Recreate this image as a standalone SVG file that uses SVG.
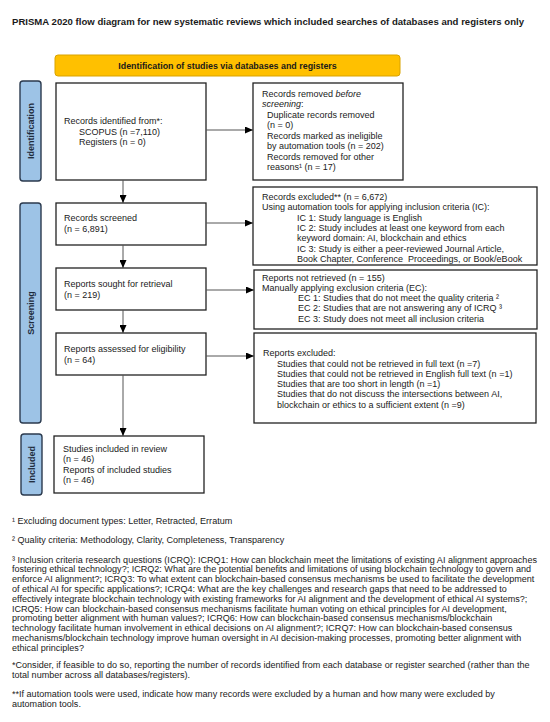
<svg xmlns="http://www.w3.org/2000/svg" width="550" height="722" viewBox="0 0 550 722">
<style>
  text { font-family: "Liberation Sans", Arial, sans-serif; fill: #1a1a1a; }
  .t { font-size: 9px; }
  .fn { font-size: 9.05px; }
  .box { fill: #ffffff; stroke: #222222; stroke-width: 1.3; }
  .side { fill: #9DC3E6; stroke: #2B3A4E; stroke-width: 1.4; }
  .sidet { font-size: 9px; font-weight: bold; fill: #1E2B3C; }
  .hdr { fill: #FFC000; stroke: #D9A300; stroke-width: 1; }
  .conn { stroke: #555555; stroke-width: 1; fill: none; marker-end: url(#ah); }
  .it { font-style: italic; }
</style>
<defs>
  <marker id="ah" markerUnits="userSpaceOnUse" markerWidth="8" markerHeight="7" refX="8" refY="3.5" orient="auto">
    <path d="M0,0 L8,3.5 L0,7 z" fill="#000000"/>
  </marker>
</defs>
<rect width="550" height="722" fill="#ffffff"/>

<text x="12" y="25" font-size="9.5" font-weight="bold" textLength="512" lengthAdjust="spacingAndGlyphs">PRISMA 2020 flow diagram for new systematic reviews which included searches of databases and registers only</text>

<g id="header">
  <rect class="hdr" x="55" y="55" width="345" height="21" rx="3"/>
  <text x="227.5" y="68.8" font-size="8.9" font-weight="bold" text-anchor="middle">Identification of studies via databases and registers</text>
</g>

<g id="label-identification">
  <rect class="side" x="20" y="81" width="21" height="100" rx="3"/>
  <text class="sidet" transform="translate(33.5,131) rotate(-90)" text-anchor="middle">Identification</text>
</g>
<g id="label-screening">
  <rect class="side" x="20" y="203" width="21" height="220" rx="3"/>
  <text class="sidet" transform="translate(33.5,313) rotate(-90)" text-anchor="middle">Screening</text>
</g>
<g id="label-included">
  <rect class="side" x="21" y="434" width="21" height="61" rx="3"/>
  <text class="sidet" transform="translate(34.5,464.5) rotate(-90)" text-anchor="middle">Included</text>
</g>

<g id="records-identified">
  <rect class="box" x="56" y="83" width="150" height="97"/>
  <text class="t" x="64" y="124">Records identified from*:</text>
  <text class="t" x="79" y="134.5">SCOPUS (n =7,110)</text>
  <text class="t" x="79" y="145">Registers (n = 0)</text>
</g>

<g id="records-removed">
  <rect class="box" x="253" y="83" width="150" height="97"/>
  <text class="t" x="262" y="96.5">Records removed <tspan class="it">before</tspan></text>
  <text class="t" x="262" y="107"><tspan class="it">screening</tspan>:</text>
  <text class="t" x="267" y="117.5">Duplicate records removed</text>
  <text class="t" x="267" y="128">(n = 0)</text>
  <text class="t" x="267" y="138.5">Records marked as ineligible</text>
  <text class="t" x="267" y="149">by automation tools (n = 202)</text>
  <text class="t" x="267" y="159.5">Records removed for other</text>
  <text class="t" x="267" y="170">reasons¹ (n = 17)</text>
</g>

<g id="records-screened">
  <rect class="box" x="56" y="203" width="150" height="42"/>
  <text class="t" x="64" y="221">Records screened</text>
  <text class="t" x="64" y="231.5">(n = 6,891)</text>
</g>

<g id="records-excluded">
  <rect class="box" x="253" y="187" width="284" height="78"/>
  <text class="t" x="262" y="200">Records excluded** (n = 6,672)</text>
  <text class="t" x="262" y="210.3">Using automation tools for applying inclusion criteria (IC):</text>
  <text class="t" x="297" y="220.6">IC 1: Study language is English</text>
  <text class="t" x="297" y="230.9">IC 2: Study includes at least one keyword from each</text>
  <text class="t" x="297" y="241.2">keyword domain: AI, blockchain and ethics</text>
  <text class="t" x="297" y="251.5">IC 3: Study is either a peer-reviewed Journal Article,</text>
  <text class="t" x="297" y="261.8" xml:space="preserve">Book Chapter, Conference  Proceedings, or Book/eBook</text>
</g>

<g id="reports-sought">
  <rect class="box" x="56" y="268" width="150" height="42"/>
  <text class="t" x="64" y="287">Reports sought for retrieval</text>
  <text class="t" x="64" y="297.5">(n = 219)</text>
</g>

<g id="reports-not-retrieved">
  <rect class="box" x="254" y="270" width="283" height="59"/>
  <text class="t" x="262" y="280.5">Reports not retrieved (n = 155)</text>
  <text class="t" x="262" y="290.8">Manually applying exclusion criteria (EC):</text>
  <text class="t" x="298" y="301.1">EC 1: Studies that do not meet the quality criteria ²</text>
  <text class="t" x="298" y="311.4">EC 2: Studies that are not answering any of ICRQ ³</text>
  <text class="t" x="298" y="321.7">EC 3: Study does not meet all inclusion criteria</text>
</g>

<g id="reports-assessed">
  <rect class="box" x="56" y="333" width="150" height="42"/>
  <text class="t" x="64" y="352">Reports assessed for eligibility</text>
  <text class="t" x="64" y="362.5">(n = 64)</text>
</g>

<g id="reports-excluded">
  <rect class="box" x="254" y="333" width="282" height="90"/>
  <text class="t" x="263" y="356">Reports excluded:</text>
  <text class="t" x="277" y="366.5">Studies that could not be retrieved in full text (n =7)</text>
  <text class="t" x="277" y="376.8">Studies that could not be retrieved in English full text (n =1)</text>
  <text class="t" x="277" y="387.1">Studies that are too short in length (n =1)</text>
  <text class="t" x="277" y="397.4">Studies that do not discuss the intersections between AI,</text>
  <text class="t" x="277" y="407.7">blockchain or ethics to a sufficient extent (n =9)</text>
</g>

<g id="studies-included">
  <rect class="box" x="54" y="436" width="150" height="57"/>
  <text class="t" x="63" y="452">Studies included in review</text>
  <text class="t" x="63" y="462.3">(n = 46)</text>
  <text class="t" x="63" y="472.6">Reports of included studies</text>
  <text class="t" x="63" y="482.9">(n = 46)</text>
</g>

<g id="connectors">
  <line class="conn" x1="123" y1="180" x2="123" y2="203"/>
  <line class="conn" x1="123" y1="245" x2="123" y2="268"/>
  <line class="conn" x1="123" y1="310" x2="123" y2="333"/>
  <line class="conn" x1="123" y1="375" x2="123" y2="436"/>
  <line class="conn" x1="206" y1="130" x2="253" y2="130"/>
  <line class="conn" x1="206" y1="223" x2="253" y2="223"/>
  <line class="conn" x1="206" y1="290" x2="254" y2="290"/>
  <line class="conn" x1="206" y1="356" x2="254" y2="356"/>
</g>

<g id="footnotes">
  <text class="fn" x="12" y="524">¹ Excluding document types: Letter, Retracted, Erratum</text>
  <text class="fn" x="12" y="543">² Quality criteria: Methodology, Clarity, Completeness, Transparency</text>
  <text class="fn" x="12" y="562.5">³ Inclusion criteria research questions (ICRQ): ICRQ1: How can blockchain meet the limitations of existing AI alignment approaches</text>
  <text class="fn" x="12" y="572.3">fostering ethical technology?; ICRQ2: What are the potential benefits and limitations of using blockchain technology to govern and</text>
  <text class="fn" x="12" y="582.1">enforce AI alignment?; ICRQ3: To what extent can blockchain-based consensus mechanisms be used to facilitate the development</text>
  <text class="fn" x="12" y="591.9">of ethical AI for specific applications?; ICRQ4: What are the key challenges and research gaps that need to be addressed to</text>
  <text class="fn" x="12" y="601.7">effectively integrate blockchain technology with existing frameworks for AI alignment and the development of ethical AI systems?;</text>
  <text class="fn" x="12" y="611.5">ICRQ5: How can blockchain-based consensus mechanisms facilitate human voting on ethical principles for AI development,</text>
  <text class="fn" x="12" y="621.3">promoting better alignment with human values?; ICRQ6: How can blockchain-based consensus mechanisms/blockchain</text>
  <text class="fn" x="12" y="631.1">technology facilitate human involvement in ethical decisions on AI alignment?; ICRQ7: How can blockchain-based consensus</text>
  <text class="fn" x="12" y="640.9">mechanisms/blockchain technology improve human oversight in AI decision-making processes, promoting better alignment with</text>
  <text class="fn" x="12" y="650.7">ethical principles?</text>
  <text class="fn" x="12" y="667.8">*Consider, if feasible to do so, reporting the number of records identified from each database or register searched (rather than the</text>
  <text class="fn" x="12" y="677.6">total number across all databases/registers).</text>
  <text class="fn" x="12" y="696.8">**If automation tools were used, indicate how many records were excluded by a human and how many were excluded by</text>
  <text class="fn" x="12" y="706.6">automation tools.</text>
</g>
</svg>
